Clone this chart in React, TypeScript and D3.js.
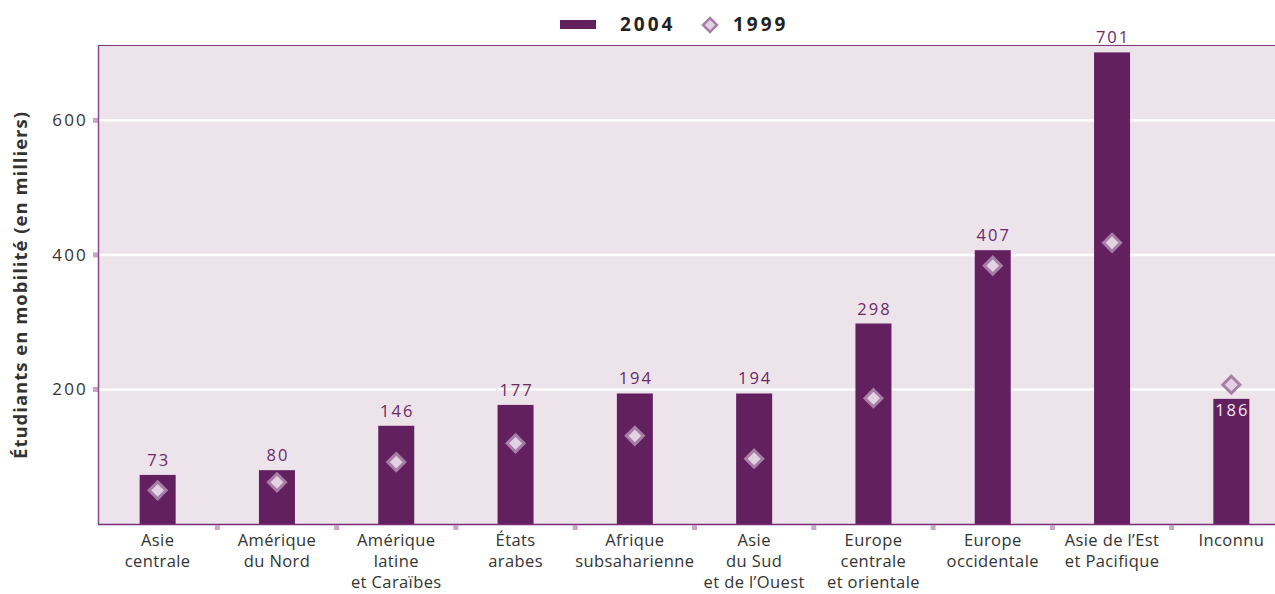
import React from "react";
import * as d3 from "d3";

const categories = [
  ["Asie", "centrale"],
  ["Amérique", "du Nord"],
  ["Amérique", "latine", "et Caraïbes"],
  ["États", "arabes"],
  ["Afrique", "subsaharienne"],
  ["Asie", "du Sud", "et de l’Ouest"],
  ["Europe", "centrale", "et orientale"],
  ["Europe", "occidentale"],
  ["Asie de l’Est", "et Pacifique"],
  ["Inconnu"],
];
const values2004 = [73, 80, 146, 177, 194, 194, 298, 407, 701, 186];
const values1999 = [50, 62, 92, 120, 131, 97, 187, 384, 418, 207];
const yTicks = [200, 400, 600];

const W = 1275, H = 594;
const left = 98, top = 45, bottom = 524, right = 1291;
const FONT = "'Open Sans', 'Noto Sans', sans-serif";

export default function App() {
  const idx = categories.map((_, i) => String(i));
  const x = d3.scaleBand().domain(idx).range([left, right]).paddingInner(0).paddingOuter(0);
  const y = d3.scaleLinear().domain([0, 712]).range([bottom, top]);
  const bw = 36;
  const diamond = (cx: number, cy: number, r: number) =>
    `M${cx},${cy - r}L${cx + r},${cy}L${cx},${cy + r}L${cx - r},${cy}Z`;

  return (
    <svg width={W} height={H} style={{ position: "absolute", left: 0, top: 0, background: "#fff" }}>
      <rect x={left} y={top} width={W - left} height={bottom - top} fill="#ede3eb" />
      {yTicks.map((t) => (
        <g key={t}>
          <line x1={left} x2={W} y1={y(t)} y2={y(t)} stroke="#fff" strokeWidth={2.5} />
          <rect x={93} y={y(t) - 2.5} width={5} height={5} fill="#c7a6c6" />
          <text x={88} y={y(t) + 6} textAnchor="end" fontFamily={FONT} fontSize={17} fill="#333" letterSpacing={2.2}>
            {t}
          </text>
        </g>
      ))}
      <line x1={left} x2={W} y1={top + 0.5} y2={top + 0.5} stroke="#7a3a78" strokeWidth={1.2} />
      {values2004.map((v, i) => {
        const cx = x(String(i))! + x.bandwidth() / 2;
        return <rect key={i} x={cx - bw / 2} y={y(v)} width={bw} height={bottom - y(v)} fill="#63205f" />;
      })}
      {values1999.map((v, i) => {
        const cx = x(String(i))! + x.bandwidth() / 2;
        return <path key={i} d={diamond(cx, y(v), 8.5)} fill="#e2d2e2" stroke="#a77ea7" strokeWidth={3} />;
      })}
      {values2004.map((v, i) => {
        const cx = x(String(i))! + x.bandwidth() / 2;
        const inside = values1999[i] > v;
        return (
          <text
            key={i}
            x={cx + 1}
            y={inside ? y(v) + 17 : y(v) - 9}
            textAnchor="middle"
            fontFamily={FONT}
            fontSize={16.5}
            letterSpacing={2}
            fill={inside ? "#f3e6f2" : "#6b2a67"}
          >
            {v}
          </text>
        );
      })}
      <line x1={left + 0.5} x2={left + 0.5} y1={top} y2={bottom} stroke="#8a4c88" strokeWidth={1.5} />
      <line x1={left} x2={W} y1={bottom + 0.5} y2={bottom + 0.5} stroke="#7a2d76" strokeWidth={1.5} />
      {idx.slice(1).map((d) => (
        <rect key={d} x={x(d)! - 2.5} y={bottom + 1} width={5} height={5} fill="#c7a6c6" />
      ))}
      {categories.map((lines, i) => {
        const cx = x(String(i))! + x.bandwidth() / 2;
        return (
          <text key={i} textAnchor="middle" fontFamily={FONT} fontSize={16.5} letterSpacing={0.4} fill="#333">
            {lines.map((l, j) => (
              <tspan key={j} x={cx} y={546 + j * 21}>
                {l}
              </tspan>
            ))}
          </text>
        );
      })}
      <text
        transform={`translate(27,${285}) rotate(-90)`}
        textAnchor="middle"
        fontFamily={FONT}
        fontSize={18.5}
        fontWeight="bold"
        letterSpacing={1}
        fill="#333"
      >
        Étudiants en mobilité (en milliers)
      </text>
      <rect x={560} y={20} width={36} height={9} fill="#63205f" />
      <text x={620} y={31} fontFamily={FONT} fontSize={19} fontWeight="bold" fill="#222" letterSpacing={3}>
        2004
      </text>
      <path d={diamond(710, 25, 7)} fill="#e2d2e2" stroke="#a77ea7" strokeWidth={2.5} />
      <text x={733} y={31} fontFamily={FONT} fontSize={19} fontWeight="bold" fill="#222" letterSpacing={3}>
        1999
      </text>
    </svg>
  );
}
